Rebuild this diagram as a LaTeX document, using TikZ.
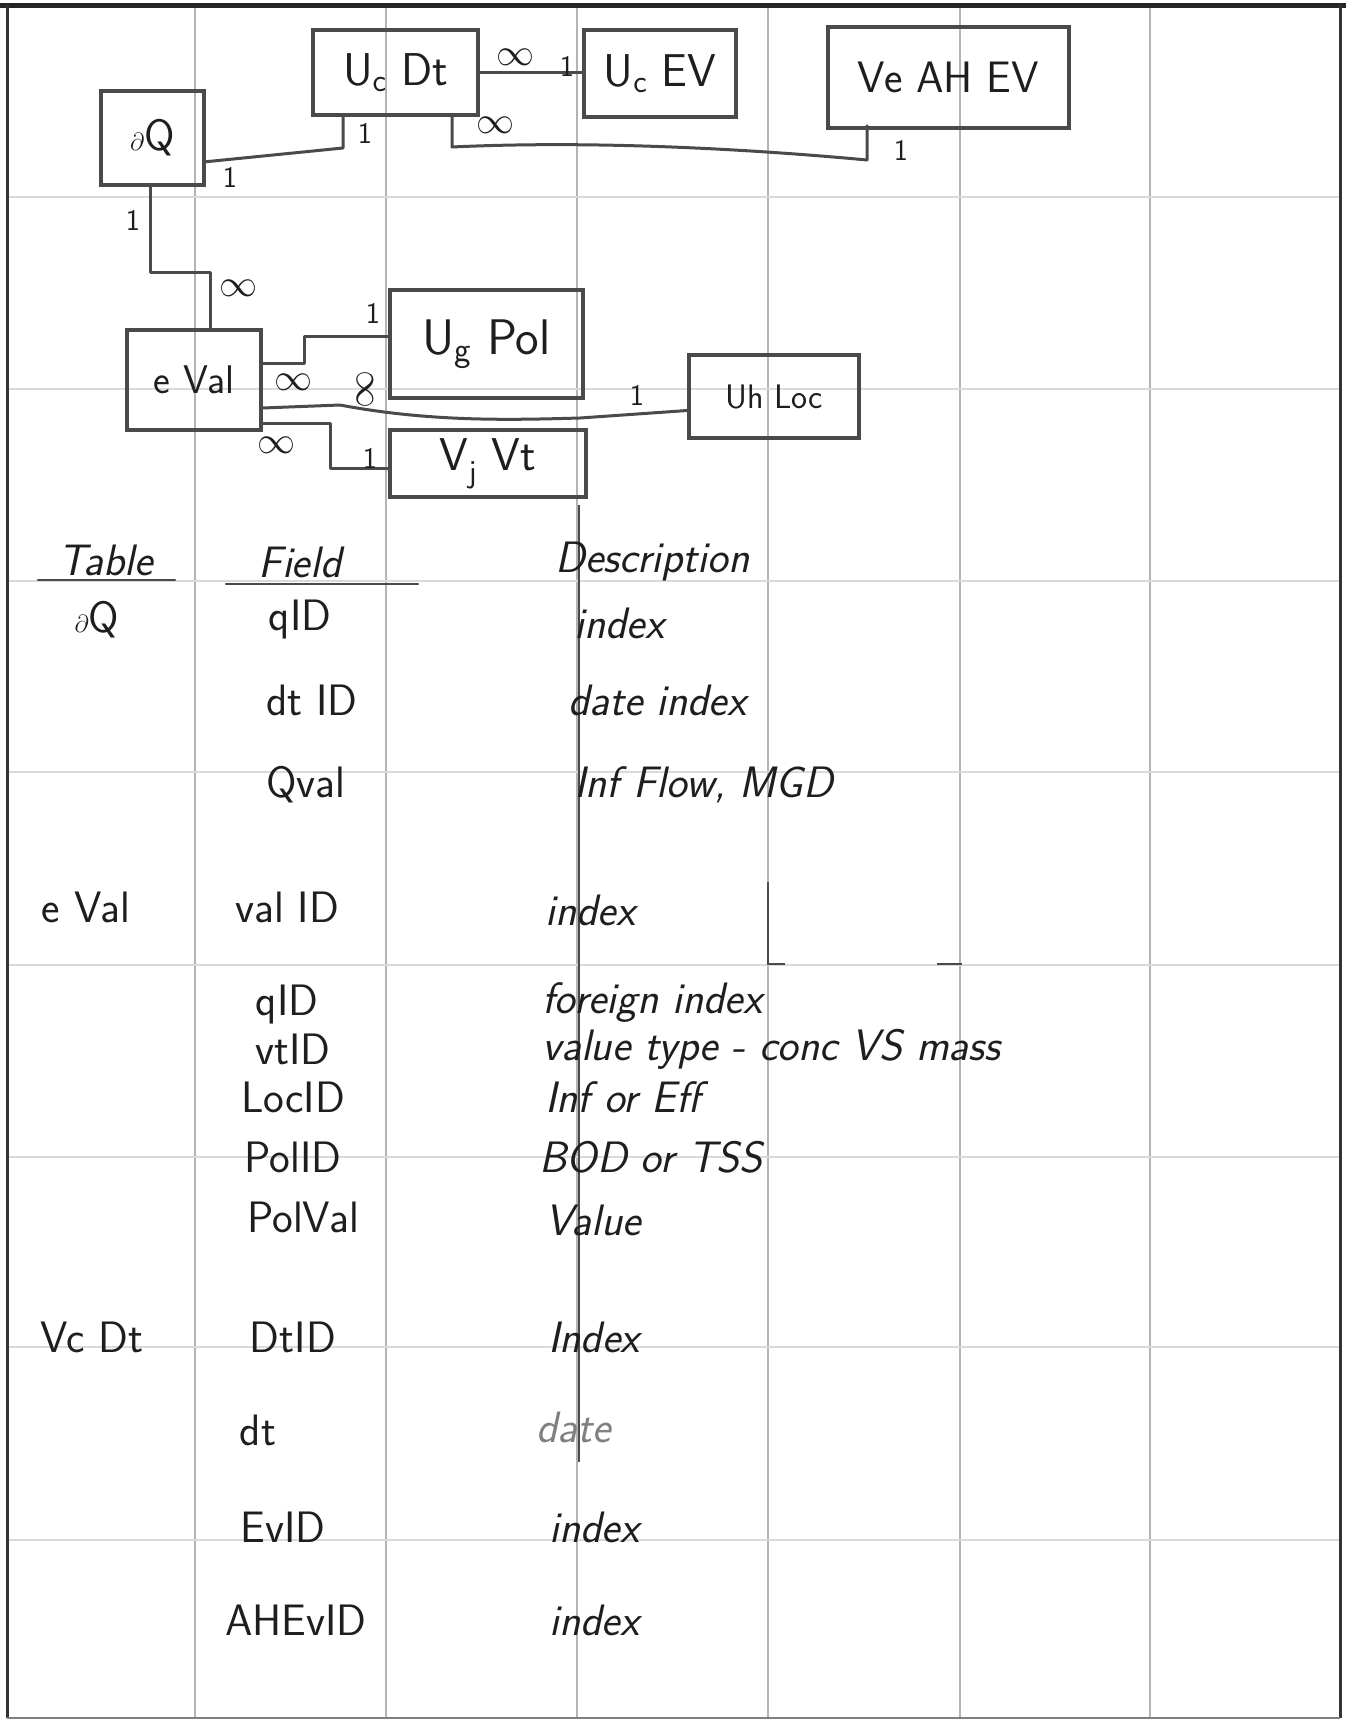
\documentclass[tikz,border=0pt]{standalone}
\usetikzlibrary{calc}
\definecolor{inkc}{HTML}{4A4A4A}
\definecolor{txtc}{HTML}{1E1E1E}
\definecolor{gridv}{HTML}{B4B4B4}
\definecolor{gridh}{HTML}{DADADA}
\newcommand{\bigInf}{\scalebox{3.8}{$\infty$}}
\begin{document}
\begin{tikzpicture}[x=1pt,y=-1pt,
  ink/.style={draw=inkc, line width=3pt, line cap=round, line join=round},
  tbox/.style={draw=inkc, line width=3.5pt, rectangle, inner sep=0pt, text=txtc, font=\sffamily\fontsize{46}{50}\selectfont},
  lbl/.style={text=txtc, font=\sffamily\fontsize{30}{32}\selectfont, inner sep=0pt},
  infl/.style={text=txtc, inner sep=0pt},
  fld/.style={text=txtc, font=\sffamily\fontsize{44}{48}\selectfont, inner sep=0pt},
  dsc/.style={text=txtc, font=\sffamily\slshape\fontsize{44}{48}\selectfont, inner sep=0pt, anchor=west},
]
\useasboundingbox (0,0) rectangle (1346,1729);
\fill[white] (0,0) rectangle (1346,1729);
% grid paper
\foreach \gx in {195,386,577,768,960,1150} \draw[gridv, line width=1.5pt] (\gx,5) -- (\gx,1718);
\foreach \gy in {197,389,581,772,965,1157,1347,1540} \draw[gridh, line width=2pt] (7,\gy) -- (1340,\gy);
% darker pen lines over grid
\draw[inkc, line width=2pt] (579,505) -- (579,1462);
\draw[inkc, line width=2pt] (768,882) -- (768,964) -- (785,964);
\draw[inkc, line width=2pt] (937,964) -- (962,964);
% page borders
\draw[black!85, line width=5pt] (0,5) -- (1346,5);
\draw[black!80, line width=3pt] (7,5) -- (7,1718);
\draw[black!80, line width=3pt] (1340,5) -- (1340,1718);
\draw[gray, line width=2pt] (7,1718) -- (1340,1718);

% entity boxes
\node[tbox, minimum width=165pt, minimum height=85pt] (vcdt) at (395.5,72.5) {U\textsubscript{c} Dt};
\node[tbox, minimum width=152pt, minimum height=87pt] (ucev) at (660,73.5) {U\textsubscript{c} EV};
\node[tbox, minimum width=241pt, minimum height=101pt, font=\sffamily\fontsize{44}{48}\selectfont] (veah) at (948.5,77.5) {Ve AH EV};
\node[tbox, minimum width=103pt, minimum height=94pt, font=\sffamily\fontsize{44}{48}\selectfont] (aQ) at (152.5,138) {$\partial$Q};
\node[tbox, minimum width=134pt, minimum height=100pt, font=\sffamily\fontsize{40}{44}\selectfont] (eval) at (194,380) {e Val};
\node[tbox, minimum width=193pt, minimum height=108pt, font=\sffamily\fontsize{50}{54}\selectfont] (ugpol) at (486.5,344) {U\textsubscript{g} Pol};
\node[tbox, minimum width=170pt, minimum height=83pt, font=\sffamily\fontsize{34}{38}\selectfont] (uhloc) at (774,396.5) {Uh Loc};
\node[tbox, minimum width=196pt, minimum height=67pt] (vjvt) at (488,463.5) {V\textsubscript{j} Vt};

% connector helper points
\coordinate (c1) at (343,148);
\coordinate (c2) at (452,147);
\coordinate (c3) at (867,160);
\coordinate (c4) at (150,272);
\coordinate (c5) at (210,272);
\coordinate (c6) at (304,336);
\coordinate (c7) at (330,468);

% connectors
\draw[ink] ($(aQ.south east)+(0,-25)$) -- (c1) -- (c1 |- vcdt.south);
\draw[ink] (vcdt.east) -- (vcdt.east -| ucev.west);
\draw[ink] (c2 |- vcdt.south) -- (c2) .. controls (600,140) and (760,150) .. (c3) -- ($(c3 |- veah.south)+(0,-4)$);
\draw[ink] (c4 |- aQ.south) -- (c4) -- (c5) -- (c5 |- eval.north);
\draw[ink] ($(eval.east)+(0,-17)$) -- ($(c6)+(0,27)$) -- (c6) -- (c6 -| ugpol.west);
\draw[ink] ($(eval.east)+(0,28)$) -- (340,405) .. controls (430,422) and (510,420) .. (580,418) -- ($(uhloc.west)+(0,14)$);
\draw[ink] ($(eval.east)+(0,43)$) -- ($(c7)+(0,-45)$) -- (c7) -- (c7 -| vjvt.west);

% cardinality labels
\node[infl] (l1) at (515,57) {\bigInf};
\node[lbl] (l2) at (567,66) {1};
\node[lbl] (l3) at (365,133) {1};
\node[lbl] (l4) at (230,177) {1};
\node[infl] (l5) at (495,125) {\bigInf};
\node[lbl] (l6) at (901,150) {1};
\node[lbl] (l7) at (133,220) {1};
\node[infl] (l8) at (238,288) {\bigInf};
\node[infl] (l9) at (293,382) {\bigInf};
\node[lbl] (l10) at (373,313) {1};
\node[infl, rotate=90] (l11) at (365,389) {\bigInf};
\node[lbl] (l12) at (637,395) {1};
\node[infl] (l13) at (276,445) {\bigInf};
\node[lbl] (l14) at (370,458) {1};

% table header
\node[fld, font=\sffamily\slshape\fontsize{44}{48}\selectfont] (hTable) at (106,560) {Table};
\node[fld, font=\sffamily\slshape\fontsize{44}{48}\selectfont] (hField) at (300,562) {Field};
\node[dsc] (hDesc) at (555,562) {Description};
\draw[ink, line width=2.5pt] (38,580) -- (175,580);
\draw[ink, line width=2.5pt] (226,584) -- (418,584);

% table aQ
\node[fld] (tA) at (97,620) {$\partial$Q};
\node[fld] (fA1) at (300,620) {qID};
\node[dsc] (dA1) at (574,623) {index};
\node[fld] (fA2) at (312,700) {dt ID};
\node[dsc] (dA2) at (568,700) {date index};
\node[fld] (fA3) at (306,785) {Qval};
\node[dsc] (dA3) at (574,785) {Inf Flow, MGD};

% table eVal
\node[fld] (tB) at (86,907) {e Val};
\node[fld] (fB1) at (287,907) {val ID};
\node[dsc] (dB1) at (545,910) {index};
\node[fld] (fB2) at (287,1005) {qID};
\node[dsc] (dB2) at (542,1003) {foreign index};
\node[fld] (fB3) at (293,1049) {vtID};
\node[dsc] (dB3) at (542,1049) {value type - conc VS mass};
\node[fld] (fB4) at (293,1097) {LocID};
\node[dsc] (dB4) at (545,1097) {Inf or Eff};
\node[fld] (fB5) at (293,1157) {PolID};
\node[dsc] (dB5) at (539,1157) {BOD or TSS};
\node[fld] (fB6) at (303,1217) {PolVal};
\node[dsc] (dB6) at (545,1220) {Value};

% table VcDt
\node[fld] (tC) at (92,1337) {Vc Dt};
\node[fld] (fC1) at (293,1337) {DtID};
\node[dsc] (dC1) at (548,1337) {Index};
\node[fld] (fC2) at (258,1430) {dt};
\node[dsc, text=gray] (dC2) at (536,1427) {date};
\node[fld] (fC3) at (283,1527) {EvID};
\node[dsc] (dC3) at (549,1527) {index};
\node[fld] (fC4) at (296,1620) {AHEvID};
\node[dsc] (dC4) at (549,1620) {index};
\end{tikzpicture}
\end{document}
